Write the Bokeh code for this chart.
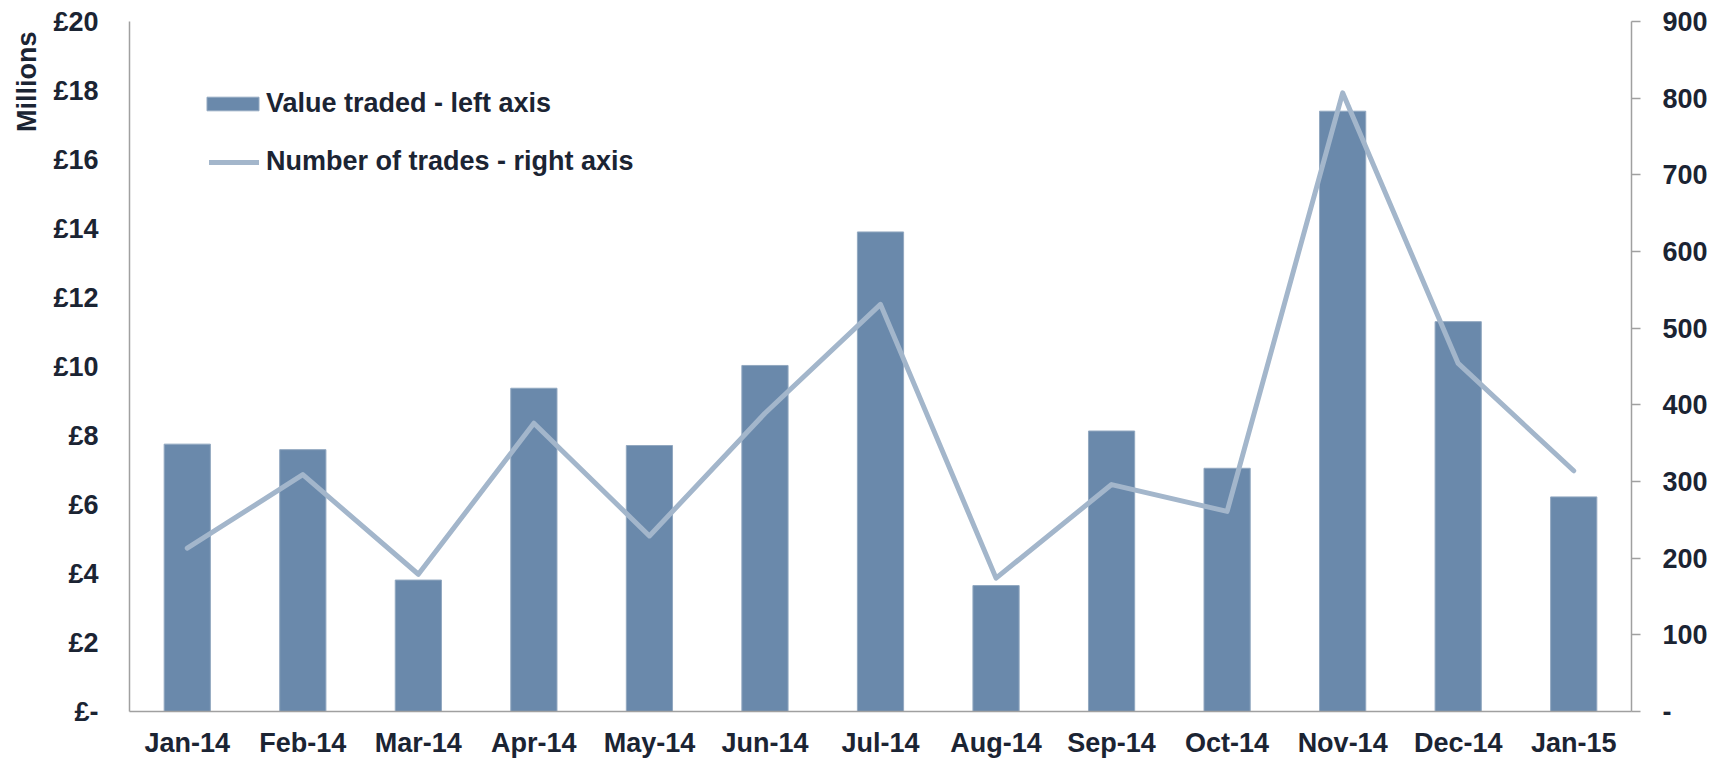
from bokeh.plotting import figure
from bokeh.models import (ColumnDataSource, FactorRange, Range1d, LinearAxis, FixedTicker,
                          CustomJSTickFormatter, Legend, LegendItem, Title)
from bokeh.embed import file_html
from bokeh.resources import INLINE

months = ["Jan-14", "Feb-14", "Mar-14", "Apr-14", "May-14", "Jun-14", "Jul-14",
          "Aug-14", "Sep-14", "Oct-14", "Nov-14", "Dec-14", "Jan-15"]
value_traded = [7.75, 7.59, 3.81, 9.37, 7.71, 10.03, 13.9, 3.65, 8.13, 7.05, 17.4, 11.3, 6.22]
num_trades = [213, 309, 179, 376, 229, 389, 531, 174, 296, 261, 807, 454, 314]
left_ticks = [0, 2, 4, 6, 8, 10, 12, 14, 16, 18, 20]
right_ticks = [0, 100, 200, 300, 400, 500, 600, 700, 800, 900]

FONT = "Liberation Sans"
TEXT = "#1B2433"
AXIS = "#A0A0A0"
BAR = "#6A89AB"
LINE = "#A3B6CB"
FS = "27px"

src = ColumnDataSource(dict(month=months, value=value_traded, trades=num_trades))

p = figure(x_range=FactorRange(*months, range_padding=0),
           y_range=Range1d(left_ticks[0], left_ticks[-1]),
           width=1723, height=760, output_backend="svg", toolbar_location=None,
           min_border_left=129, min_border_right=92, min_border_top=21, min_border_bottom=47)
p.extra_y_ranges = {"trades": Range1d(right_ticks[0], right_ticks[-1])}
p.outline_line_color = None
p.xgrid.grid_line_color = None
p.ygrid.grid_line_color = None
p.background_fill_color = "white"
p.border_fill_color = "white"

bars = p.vbar(x="month", top="value", width=0.4, source=src, fill_color=BAR,
              line_color="#92A8C0", line_width=1)
line = p.line(x="month", y="trades", source=src, y_range_name="trades",
              line_color=LINE, line_width=5, line_join="round", line_cap="round")

# left axis
ya = p.yaxis[0]
ya.ticker = FixedTicker(ticks=left_ticks)
ya.formatter = CustomJSTickFormatter(code="return tick == 0 ? '£-' : '£' + tick;")
ya.axis_line_color = AXIS
ya.axis_line_width = 1.5
ya.major_tick_line_color = None
ya.minor_tick_line_color = None
ya.major_tick_out = 0
ya.major_tick_in = 0
ya.major_label_standoff = 31
ya.major_label_text_font = FONT
ya.major_label_text_font_style = "bold"
ya.major_label_text_font_size = FS
ya.major_label_text_color = TEXT

# right axis
ra = LinearAxis(y_range_name="trades", ticker=FixedTicker(ticks=right_ticks),
                formatter=CustomJSTickFormatter(code="return tick == 0 ? '-' : '' + tick;"))
ra.axis_line_color = AXIS
ra.axis_line_width = 1.5
ra.major_tick_line_color = AXIS
ra.major_tick_line_width = 1.5
ra.major_tick_out = 9
ra.major_tick_in = 0
ra.minor_tick_line_color = None
ra.major_label_standoff = 22
ra.major_label_text_font = FONT
ra.major_label_text_font_style = "bold"
ra.major_label_text_font_size = FS
ra.major_label_text_color = TEXT
p.add_layout(ra, "right")

# bottom axis
xa = p.xaxis[0]
xa.axis_line_color = AXIS
xa.axis_line_width = 1.5
xa.major_tick_line_color = None
xa.major_tick_out = 0
xa.major_tick_in = 0
xa.major_label_standoff = 16
xa.major_label_text_font = FONT
xa.major_label_text_font_style = "bold"
xa.major_label_text_font_size = FS
xa.major_label_text_color = TEXT

# "Millions" title on the left
p.add_layout(Title(text="Millions", align="right", text_font=FONT, text_font_style="bold",
                   text_font_size=FS, text_color=TEXT, standoff=18, offset=10), "left")

def mk_legend(item, x, top, gw, gh, standoff):
    lg = Legend(items=[item], location=(x, top), orientation="vertical",
                glyph_width=gw, glyph_height=gh, label_standoff=standoff,
                label_text_font=FONT, label_text_font_style="bold", label_text_font_size=FS,
                label_text_color=TEXT, border_line_color=None, background_fill_alpha=0,
                padding=0, margin=0, spacing=0)
    p.add_layout(lg)

mk_legend(LegendItem(label="Value traded - left axis", renderers=[bars]), 71, 592, 65, 17, 1)
mk_legend(LegendItem(label="Number of trades - right axis", renderers=[line]), 80, 534, 50, 14, 7)

open("out.html", "w").write(file_html(p, INLINE))
